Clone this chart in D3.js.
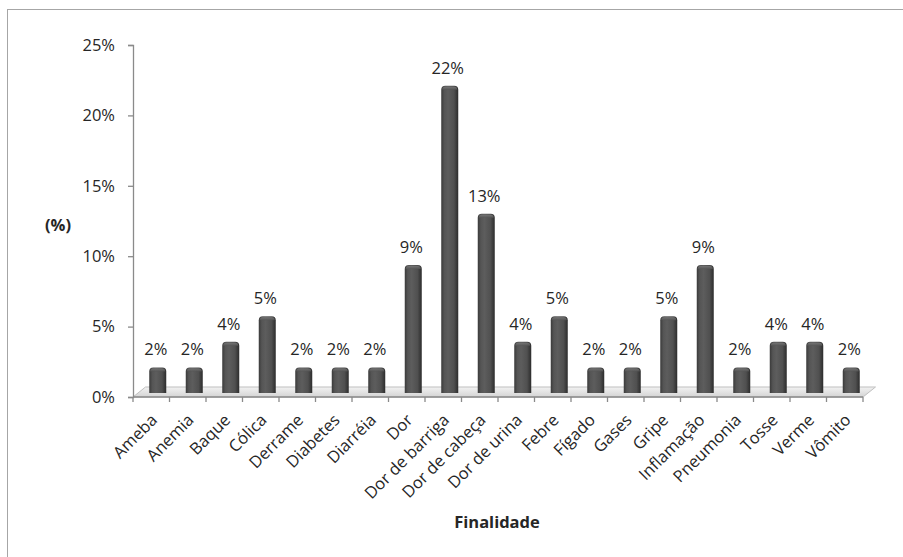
<!DOCTYPE html>
<html>
<head>
<meta charset="utf-8">
<script src="https://cdn.jsdelivr.net/npm/d3@7"></script>
<style>
  html, body { margin: 0; padding: 0; background: #fff; }
  svg { display: block; font-family: "Open Sans", "DejaVu Sans", sans-serif; }
</style>
</head>
<body>
<svg id="chart" width="903" height="557"></svg>
<script>
// Categories (Finalidade) and their share of citations
const categories = ["Ameba", "Anemia", "Baque", "Cólica", "Derrame", "Diabetes", "Diarréia", "Dor",
  "Dor de barriga", "Dor de cabeça", "Dor de urina", "Febre", "Fígado", "Gases", "Gripe",
  "Inflamação", "Pneumonia", "Tosse", "Verme", "Vômito"];
const counts = [1, 1, 2, 3, 1, 1, 1, 5, 12, 7, 2, 3, 1, 1, 3, 5, 1, 2, 2, 1];
const total = 55;
const percents = counts.map(c => c / total * 100);
const yTicks = [0, 5, 10, 15, 20, 25];
const yTitle = "(%)";
const xTitle = "Finalidade";

const svg = d3.select("#chart");
const textColor = "#262626";
const axisColor = "#8a8a8a";
const fontSize = 16.5;

// outer chart frame
svg.append("rect").attr("x", 7.5).attr("y", 9.5).attr("width", 920).attr("height", 600)
  .attr("fill", "none").attr("stroke", "#a6a6a6").attr("stroke-width", 1);

const x0 = 133, x1 = 863;
const x = d3.scaleBand().domain(categories).range([x0, x1]).paddingInner(0).paddingOuter(0);
const y = d3.scaleLinear().domain([0, 25]).range([397, 45]);

// depth of the 3D floor
const depthX = 12.5, depthY = -10;
const barDX = 6.5, barDY = -4;

const defs = svg.append("defs");
const fg = defs.append("linearGradient").attr("id", "floorGrad")
  .attr("x1", "0").attr("y1", "0").attr("x2", "0").attr("y2", "1");
fg.append("stop").attr("offset", "0").attr("stop-color", "#f2f2f2");
fg.append("stop").attr("offset", "1").attr("stop-color", "#d4d4d4");

const bg = defs.append("linearGradient").attr("id", "barGrad")
  .attr("x1", "0").attr("y1", "0").attr("x2", "1").attr("y2", "0");
[["0", "#3a3a3a"], ["0.18", "#555555"], ["0.4", "#5d5d5d"], ["0.75", "#505050"], ["1", "#2c2c2c"]]
  .forEach(([o, c]) => bg.append("stop").attr("offset", o).attr("stop-color", c));

const cg = defs.append("linearGradient").attr("id", "capGrad")
  .attr("x1", "0").attr("y1", "0").attr("x2", "0").attr("y2", "1");
cg.append("stop").attr("offset", "0").attr("stop-color", "#7a7a7a");
cg.append("stop").attr("offset", "1").attr("stop-color", "#555555");

// floor
const floorY = y(0);
svg.append("path")
  .attr("d", `M${x0},${floorY} L${x1},${floorY} L${x1 + depthX},${floorY + depthY} L${x0 + depthX},${floorY + depthY} Z`)
  .attr("fill", "url(#floorGrad)").attr("stroke", "#bfbfbf").attr("stroke-width", 1);

// y axis
const yAxis = d3.axisLeft(y).tickValues(yTicks).tickSize(5).tickPadding(13)
  .tickFormat(d => d + "%");
const gy = svg.append("g").attr("transform", `translate(${x0},0)`).call(yAxis);
gy.select(".domain").attr("stroke", axisColor).attr("stroke-width", 1.3);
gy.selectAll(".tick line").attr("stroke", axisColor).attr("stroke-width", 1.3);
gy.selectAll(".tick text").attr("fill", textColor).attr("font-size", fontSize)
  .attr("font-family", "Open Sans, sans-serif");

// x axis ticks at band boundaries
const gx = svg.append("g");
gx.append("line").attr("x1", x0).attr("x2", x1).attr("y1", floorY).attr("y2", floorY)
  .attr("stroke", axisColor).attr("stroke-width", 1.3);
const bounds = categories.map(c => x(c)).concat([x1]);
gx.selectAll("line.tk").data(bounds).enter().append("line").attr("class", "tk")
  .attr("x1", d => d).attr("x2", d => d).attr("y1", floorY).attr("y2", floorY + 5)
  .attr("stroke", axisColor).attr("stroke-width", 1.3);

// bars
const bw = 17;
const bars = svg.append("g");
categories.forEach((c, i) => {
  const cx = x(c) + x.bandwidth() / 2 + barDX;
  const base = y(0) + barDY;
  const top = base - (y(0) - y(percents[i]));
  const r = 4;
  const left = cx - bw / 2, right = cx + bw / 2;
  bars.append("path")
    .attr("d", `M${left},${base} L${left},${top + r} Q${left},${top} ${left + r},${top} L${right - r},${top} Q${right},${top} ${right},${top + r} L${right},${base} Z`)
    .attr("fill", "url(#barGrad)");
  // bevelled top cap
  bars.append("path")
    .attr("d", `M${left + 1},${top + r} Q${left + 1},${top + 1} ${left + r},${top + 1} L${right - r},${top + 1} Q${right - 1},${top + 1} ${right - 1},${top + r} Z`)
    .attr("fill", "url(#capGrad)").attr("opacity", 0.8);
  // value label
  svg.append("text").attr("x", cx - 2).attr("y", top - 12)
    .attr("text-anchor", "middle").attr("font-size", fontSize).attr("fill", textColor)
    .text(Math.round(percents[i]) + "%");
});

// category labels, rotated
categories.forEach(c => {
  const cx = x(c) + x.bandwidth() / 2;
  svg.append("text")
    .attr("transform", `translate(${cx + 3},${floorY + 20}) rotate(-45)`)
    .attr("text-anchor", "end").attr("font-size", fontSize).attr("fill", textColor)
    .attr("dy", "0.35em")
    .text(c);
});

// axis titles
svg.append("text").attr("x", 58).attr("y", 231).attr("text-anchor", "middle")
  .attr("font-size", fontSize).attr("font-weight", "bold").attr("fill", textColor).text(yTitle);
svg.append("text").attr("x", 497).attr("y", 528).attr("text-anchor", "middle")
  .attr("font-size", fontSize).attr("font-weight", "bold").attr("fill", textColor).text(xTitle);
</script>
</body>
</html>
